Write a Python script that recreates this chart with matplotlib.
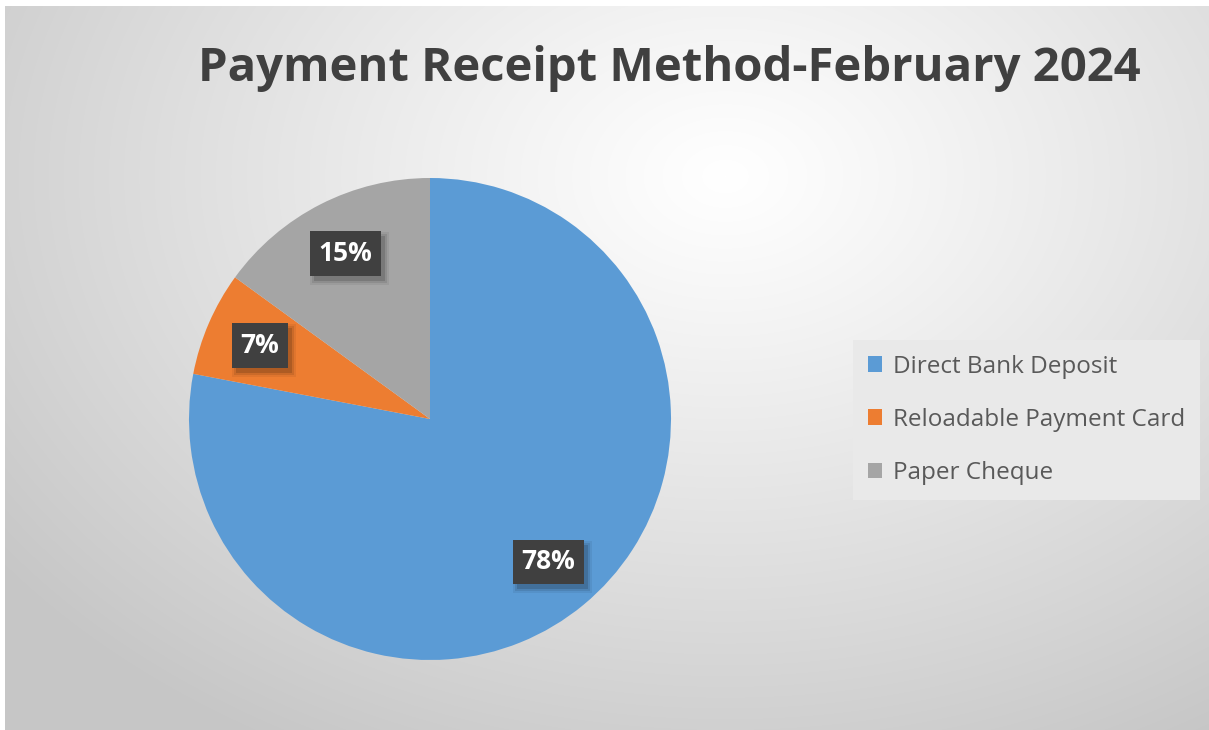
import numpy as np
import matplotlib
matplotlib.use("Agg")
import matplotlib.pyplot as plt
from matplotlib.patches import Rectangle

# ---- data ----
categories = ["Direct Bank Deposit", "Reloadable Payment Card", "Paper Cheque"]
values = [78, 7, 15]
colors = ["#5B9BD5", "#ED7D31", "#A5A5A5"]
title = "Payment Receipt Method-February 2024"

FONT = ["Open Sans", "DejaVu Sans"]
W, H = 1209, 730
fig = plt.figure(figsize=(W / 100, H / 100), dpi=100)
fig.patch.set_facecolor("white")

# ---- background gradient (chart area with white margin top/left) ----
bg_ax = fig.add_axes([5 / W, 0, (W - 5) / W, (H - 6) / H])
bg_ax.set_axis_off()
yy, xx = np.mgrid[0:H - 6, 0:W - 5]
cx, cy = 720, 170
r = np.sqrt(((xx - cx) / 900.0) ** 2 + ((yy - cy) / 650.0) ** 2)
r = np.clip(r, 0, 1)
val = 1.0 - 0.22 * r ** 1.1
img = np.dstack([val, val, val])
bg_ax.imshow(img, aspect="auto", extent=[0, 1, 0, 1], origin="upper")
bg_ax.set_xlim(0, 1)
bg_ax.set_ylim(0, 1)

# ---- title ----
fig.text(669 / W, 1 - 68 / H, title, ha="center", va="center",
         fontsize=34, fontweight="bold", color="#404040", family=FONT)

# ---- pie ----
cxp, cyp, R = 430, 419, 241
ax = fig.add_axes([(cxp - R) / W, (H - cyp - R) / H, 2 * R / W, 2 * R / H])
ax.set_facecolor("none")
wedges, texts, autotexts = ax.pie(
    values, colors=colors, startangle=90, counterclock=False,
    autopct=lambda p: f"{p:.0f}%", pctdistance=0.77, radius=1,
    wedgeprops=dict(linewidth=0),
    textprops=dict(color="white", fontsize=19, fontweight="bold", family=FONT))
ax.set_xlim(-1, 1)
ax.set_ylim(-1, 1)
ax.set_aspect("equal")

for t in autotexts:
    t.set_bbox(dict(boxstyle="square,pad=0.33", facecolor="#404040", edgecolor="none"))
    t.set_zorder(5)

# ---- legend ----
leg = fig.legend(wedges, categories, loc="upper left",
                 bbox_to_anchor=(853 / W, 1 - 340 / H),
                 frameon=True, fancybox=False, facecolor="#E9E9E9",
                 edgecolor="none", framealpha=1.0,
                 prop=dict(family=FONT, size=17.5),
                 labelcolor="#595959", handlelength=0.6, handleheight=0.6,
                 handletextpad=0.45, labelspacing=1.2, borderpad=0.6,
                 borderaxespad=0)
for h in leg.legend_handles:
    h.set_linewidth(0)

# soft shadows behind the label boxes (inside the pie axes, below the boxes)
fig.canvas.draw()
renderer = fig.canvas.get_renderer()
inv = ax.transData.inverted()
for t in autotexts:
    bb = t.get_bbox_patch().get_window_extent(renderer)
    for grow, a in [(4, 0.06), (2, 0.09), (0, 0.14)]:
        (x0, y0) = inv.transform((bb.x0 + 4 - grow, bb.y0 - 5 - grow))
        (x1, y1) = inv.transform((bb.x1 + 4 + grow, bb.y1 - 5 + grow))
        ax.add_patch(Rectangle((x0, y0), x1 - x0, y1 - y0, facecolor="black",
                               alpha=a, edgecolor="none", zorder=4))

fig.savefig("out.png", dpi=100, facecolor=fig.get_facecolor())
